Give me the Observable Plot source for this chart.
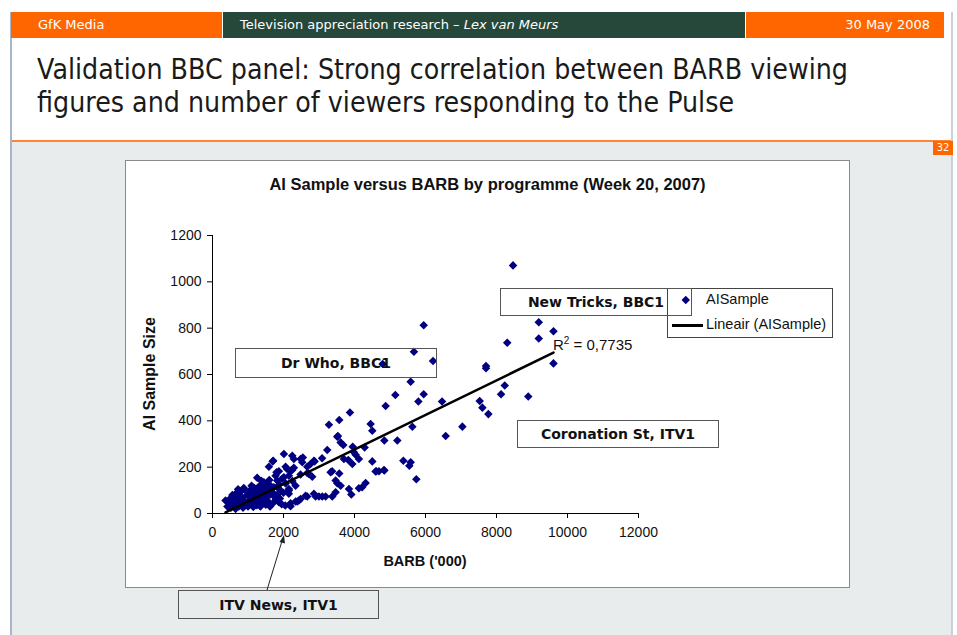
<!DOCTYPE html>
<html><head><meta charset="utf-8">
<script src="https://cdn.jsdelivr.net/npm/d3@7"></script>
<script src="https://cdn.jsdelivr.net/npm/@observablehq/plot@0.6"></script>
<style>
body{margin:0;background:#fff;}
#page{position:relative;width:957px;height:635px;overflow:hidden;background:#fff;font-family:"DejaVu Sans",sans-serif;}
.abs{position:absolute;}
.hdr{position:absolute;top:12px;height:26px;color:#fff;font-size:13px;line-height:26px;white-space:nowrap;}
.title{position:absolute;left:37px;font-size:28px;color:#1a1a1a;white-space:nowrap;transform-origin:0 50%;line-height:32px;}
.ann{position:absolute;border:1px solid #555;font:bold 14px "DejaVu Sans",sans-serif;color:#111;display:flex;align-items:center;justify-content:center;box-sizing:border-box;white-space:nowrap;}
.lg{position:absolute;font:14.5px "Liberation Sans",Arial,sans-serif;color:#111;white-space:nowrap;}
</style></head><body>
<div id="page">
  <div class="abs" style="left:10px;top:12px;width:2px;height:623px;background:#a9b5c9"></div>
  <div class="abs" style="left:951px;top:12px;width:2px;height:623px;background:#c9d0dc"></div>
  <div class="hdr" style="left:11px;width:211px;background:#ff6600;"><span style="padding-left:27px">GfK Media</span></div>
  <div class="hdr" style="left:223px;width:522px;background:#26483a;"><span style="padding-left:17px">Television appreciation research – <i>Lex van Meurs</i></span></div>
  <div class="hdr" style="left:746px;width:198px;background:#ff6600;text-align:right;"><span style="padding-right:14px">30 May 2008</span></div>
  <div class="title" id="t1" style="top:54px;">Validation BBC panel: Strong correlation between BARB viewing</div>
  <div class="title" id="t2" style="top:87px;">figures and number of viewers responding to the Pulse</div>
  <div class="abs" style="left:12px;top:142px;width:939px;height:493px;background:#e9ecec"></div>
  <div class="abs" style="left:12px;top:140px;width:939px;height:2px;background:#ff8533"></div>
  <div class="abs" style="left:933px;top:141px;width:20px;height:14px;background:#ff6600;color:#fff;font-size:10px;line-height:14px;text-align:center;">32</div>
  <div class="abs" style="left:125px;top:160px;width:725px;height:428px;background:#fff;border:1px solid #8a8a8a;box-sizing:border-box"></div>
  <div class="abs" style="left:125px;top:175px;width:725px;text-align:center;font:bold 16.5px 'Liberation Sans',Arial,sans-serif;color:#111">AI Sample versus BARB by programme (Week 20, 2007)</div>
  <div id="chart" class="abs" style="left:125px;top:160px;"></div>
  <div class="abs" style="left:212px;top:553px;width:426px;text-align:center;font:bold 14.5px 'Liberation Sans',Arial,sans-serif;color:#111">BARB ('000)</div>
  <div class="abs" style="left:90px;top:365px;width:120px;text-align:center;transform:rotate(-90deg);transform-origin:50% 50%;font:bold 16px 'Liberation Sans',Arial,sans-serif;color:#111">AI Sample Size</div>
  <div class="lg" style="left:553px;top:336px;font-size:15px">R<sup style="font-size:10px;vertical-align:6px;line-height:0">2</sup> = 0,7735</div>
  <div class="abs" style="left:667px;top:288px;width:166px;height:50px;border:1px solid #444;box-sizing:border-box"></div>
  <div class="abs" style="left:683px;top:297px;width:5.5px;height:5.5px;background:#000080;transform:rotate(45deg)"></div>
  <div class="lg" style="left:706px;top:291px;">AISample</div>
  <div class="abs" style="left:672px;top:324px;width:31px;height:2.5px;background:#000"></div>
  <div class="lg" style="left:706px;top:316px;">Lineair (AISample)</div>
  <div class="ann" style="left:500px;top:288px;width:192px;height:28px;">New Tricks, BBC1</div>
  <div class="ann" style="left:235px;top:348px;width:202px;height:30px;">Dr Who, BBC1</div>
  <div class="ann" style="left:517px;top:420px;width:202px;height:28px;">Coronation St, ITV1</div>
  <div class="ann" style="left:178px;top:590px;width:201px;height:29px;">ITV News, ITV1</div>
  <svg class="abs" style="left:0;top:0" width="957" height="635">
    <line x1="267" y1="590" x2="282" y2="541" stroke="#222" stroke-width="1"/>
    <path d="M284,535 L279.5,542 L285,543.5 Z" fill="#222"/>
  </svg>
</div>
<script>
const xTicks = [0, 2000, 4000, 6000, 8000, 10000, 12000];
const yTicks = [0, 200, 400, 600, 800, 1000, 1200];
const barb = [
  420,367,460,480,520,560,600,650,700,740,780,820,860,900,950,1000,1050,1100,1150,1200,1250,1300,1350,1400,1450,1500,1560,1620,1700,1780,1870,1950,2050,2199,2199,2340,2387,2434,
  500,560,620,680,740,800,850,930,980,1025,1080,1140,1200,1260,1320,1380,1440,1500,1560,1620,1700,1760,1851,1917,2000,2152,2152,2481,2622,2669,2858,2904,2998,3091,3186,3374,3468,
  640,720,880,1060,1120,1180,1280,1340,1420,1480,1520,1580,1660,1840,1900,
  1100,1150,1259,1300,1380,1447,1494,1550,1600,1650,1729,1776,1823,1880,1960,2011,2060,2152,2152,2250,2340,
  1588,1696,1710,1804,1870,2011,2058,2100,2199,2246,2246,2293,2293,2481,2528,2546,2669,2763,2858,2876,3087,2481,2715,2810,2669,
  3232,3280,3514,3872,3571,4454,4501,3533,3609,3684,3950,3984,4032,4124,3938,3702,3825,4285,3369,3571,3327,3468,3609,3514,3843,3910,4124,4215,4313,4689,4614,4840,4501,4595,4830,
  4793,4840,5206,5376,5582,5545,5742,4877,5150,5582,5675,5949,6212,5949,5799,5630,6466,6569,7039,7527,7602,7771,7705,7705,8232,8128,8895,8302,9191,9191,9605,9605,8466
];
const aiSample = [
  30,56,49,42,25,55,35,20,48,30,58,38,25,52,40,30,58,42,28,55,36,48,30,58,45,38,52,30,44,58,49,40,35,31,44,52,52,56,
  65,80,70,90,75,95,68,99,80,85,72,95,78,88,70,92,80,75,95,82,90,70,85,99,90,85,99,63,77,73,85,73,73,73,73,73,92,
  60,105,110,100,65,110,62,118,100,112,62,120,105,112,65,
  120,105,154,115,140,135,125,110,145,118,113,163,142,125,150,156,130,106,163,140,120,
  202,225,228,178,182,257,202,192,185,249,188,235,197,235,221,242,202,214,228,225,238,168,171,159,175,
  274,383,331,436,404,386,357,335,307,296,288,264,254,235,214,235,231,285,182,173,178,142,120,131,106,82,109,113,132,182,182,186,225,181,188,
  645,315,315,228,221,206,148,464,512,569,698,813,658,515,483,374,483,335,375,486,457,429,637,627,553,515,505,737,826,755,787,648,1071
];
const data = barb.map((x, i) => ({barb: x, ai: aiSample[i]}));
const fmt = d => String(d);
const chart = Plot.plot({
  width: 725, height: 465,
  marginLeft: 87, marginRight: 212, marginTop: 75, marginBottom: 112,
  style: {background: "transparent", fontFamily: "'Liberation Sans', Arial, sans-serif", fontSize: "14px", color: "#111", overflow: "visible"},
  x: {domain: [0, 12000]},
  y: {domain: [0, 1200]},
  marks: [
    Plot.axisX({ticks: xTicks, tickSize: 5, tickPadding: 9, tickFormat: fmt, label: null, stroke: "#000"}),
    Plot.axisY({ticks: yTicks, tickSize: 5, tickPadding: 6, tickFormat: fmt, label: null, stroke: "#000"}),
    Plot.ruleY([0], {stroke: "#000"}),
    Plot.ruleX([0], {stroke: "#000"}),
    Plot.dot(data, {x: "barb", y: "ai", symbol: "square", rotate: 45, r: 3.4, fill: "#000080", stroke: "none"}),
    Plot.linearRegressionY(data, {x: "barb", y: "ai", stroke: "#000", strokeWidth: 2.5, ci: 0})
  ]
});
document.getElementById("chart").appendChild(chart);
// fit title lines to reference width
const t1 = document.getElementById("t1"), t2 = document.getElementById("t2");
const s = 811 / t1.getBoundingClientRect().width;
t1.style.transform = `scaleX(${s})`;
t2.style.transform = `scaleX(${s})`;
</script>
</body></html>
